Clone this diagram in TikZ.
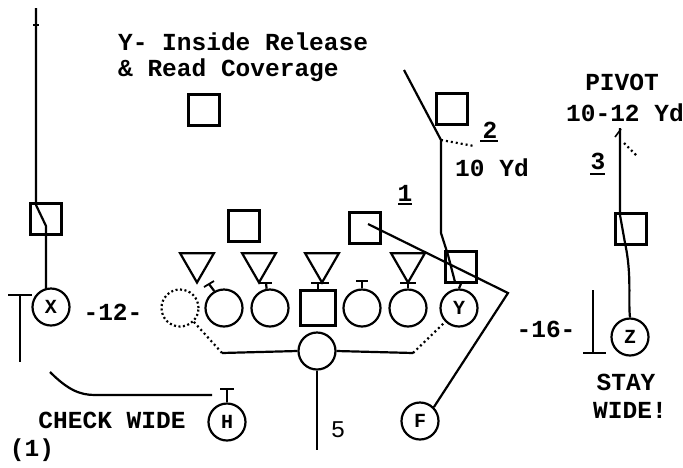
\documentclass[tikz,border=0pt]{standalone}
\usepackage{fontspec}
\setmainfont{Liberation Mono}
\usetikzlibrary{shapes.geometric}
\tikzset{
  every path/.style={line width=2.2pt},
  player/.style={circle, draw, line width=2.2pt, minimum size=37pt, inner sep=0pt, font=\fontsize{20}{20}\selectfont\bfseries},
  dbox/.style={rectangle, draw, line width=2.2pt, minimum size=31pt, inner sep=0pt},
  dtri/.style={regular polygon, regular polygon sides=3, shape border rotate=180, draw, line width=2.2pt, minimum size=39pt, inner sep=0pt},
  lbl/.style={font=\fontsize{24.5}{24.5}\selectfont\bfseries, inner sep=0pt},
  dots/.style={dash pattern=on 2pt off 3pt},
}
\begin{document}
\begin{tikzpicture}[x=1pt,y=-1pt]
\useasboundingbox (0,0) rectangle (683,467);

% title text
\node[lbl, anchor=west] (t1) at (117,42) {Y- Inside Release};
\node[lbl, anchor=west] (t2) at (117,70) {\& Read Coverage};

% defenders
\node[dbox] (lb1) at (204,110) {};
\node[dbox] (ss) at (452,109) {};
\node[dbox] (cbl) at (46,219) {};
\node[dbox] (lb2) at (244,226) {};
\node[dbox] (lb3) at (365,228) {};
\node[dbox] (lbY) at (461,267) {};
\node[dbox] (cbr) at (631,229) {};

\node[dtri] (d1) at (197,263) {};
\node[dtri] (d2) at (259,263) {};
\node[dtri] (d3) at (322,263) {};
\node[dtri] (d4) at (408,263) {};

% offense line
\node[player, dash pattern=on 2pt off 2.5pt] (te) at (180,308) {};
\node[player] (lt) at (224,308) {};
\node[player] (lg) at (270,308) {};
\node[rectangle, draw, line width=2.2pt, minimum size=35pt, inner sep=0pt] (c) at (318,308) {};
\node[player] (rg) at (362,308) {};
\node[player] (rt) at (408,308) {};
\node[player] (Y) at (459,308) {Y};
\node[player] (X) at (51,307) {X};
\node[player] (Z) at (630,337) {Z};
\node[player] (ball) at (317,351) {};
\node[player] (H) at (227,422) {H};
\node[player] (F) at (420,421) {F};

% blocks (T marks)
\draw (lt.120) -- (209,284);
\draw[line width=1.8pt] (204,287) -- (214,281);
\draw (lg.100) -- (266,283);
\draw[line width=1.8pt] (259,283) -- (272,283);
\draw (c.north) -- ++(0,-7);
\draw (311,283) -- (329,283);
\draw (rg.north) -- ++(0,-8);
\draw (356,281) -- (368,281);
\draw (rt.north) -- ++(0,-7);
\draw (400,283) -- (416,283);
\draw (Y.north) -- (lbY.south);

% X route
\coordinate (xtop) at (36,8);
\draw (xtop) -- (36,205) -- (46,226) -- (46,289.5);
\draw (33,25) -- (39,25);
% left T
\draw (8,295) -- (32,295);
\draw (20,295) -- (20,362);

% H check
\draw (50,372) .. controls (68,390) and (80,395) .. (95,395) -- (212,395);
\draw (H.north) -- ++(0,-14);
\draw (220,389) -- (234,389);

% protection line
\draw[dots] (te.south east) -- (222,353);
\draw (222,353) -- (ball.west);
\draw (ball.east) -- (413,353);
\draw[dots] (413,353) -- (Y.south west);
\coordinate (qb5) at (317,450);
\draw (ball.south) -- (qb5);
\node[lbl, font=\fontsize{24}{24}\selectfont] (five) at (338,430) {5};

% Y route
\draw (455,282) -- (448,255) -- (441,233) -- (441,140) -- (404,70);
\draw[dots] (441,140) -- (474,146);
\node[lbl] (two) at (490,130) {2};
\draw (480,141) -- (498,141);
\node[lbl] (tenyd) at (492,168) {10 Yd};

% route 1
\coordinate (apex) at (508,293);
\draw (368,224) -- (apex) -- (F.north east);
\node[lbl] (one) at (405,193) {1};
\draw (398,204) -- (412,204);

% Z route
\draw (625,243) .. controls (632,275) and (628,300) .. (Z.north);
\draw (620,128) -- (620,215) -- (625,243);
\draw[line width=1.6pt] (615,137) -- (621,129);
\draw[dots] (624,143) -- (637,156);
\node[lbl] (three) at (598,161) {3};
\draw (590,174) -- (605,174);
\node[lbl] (pivot) at (622,82) {PIVOT};
\node[lbl] (yd1012) at (625,113) {10-12 Yd};

% right inverted T
\draw (593,290) -- (593,353);
\draw (583,353) -- (606,353);

% labels
\node[lbl] (m12) at (113,312) {-12-};
\node[lbl] (m16) at (546,329) {-16-};
\node[lbl] (check) at (112,420) {CHECK WIDE};
\node[lbl] (fig) at (32,450) {(1)};
\node[lbl] (stay) at (626,382) {STAY};
\node[lbl] (wide) at (630,410) {WIDE!};
\end{tikzpicture}
\end{document}
